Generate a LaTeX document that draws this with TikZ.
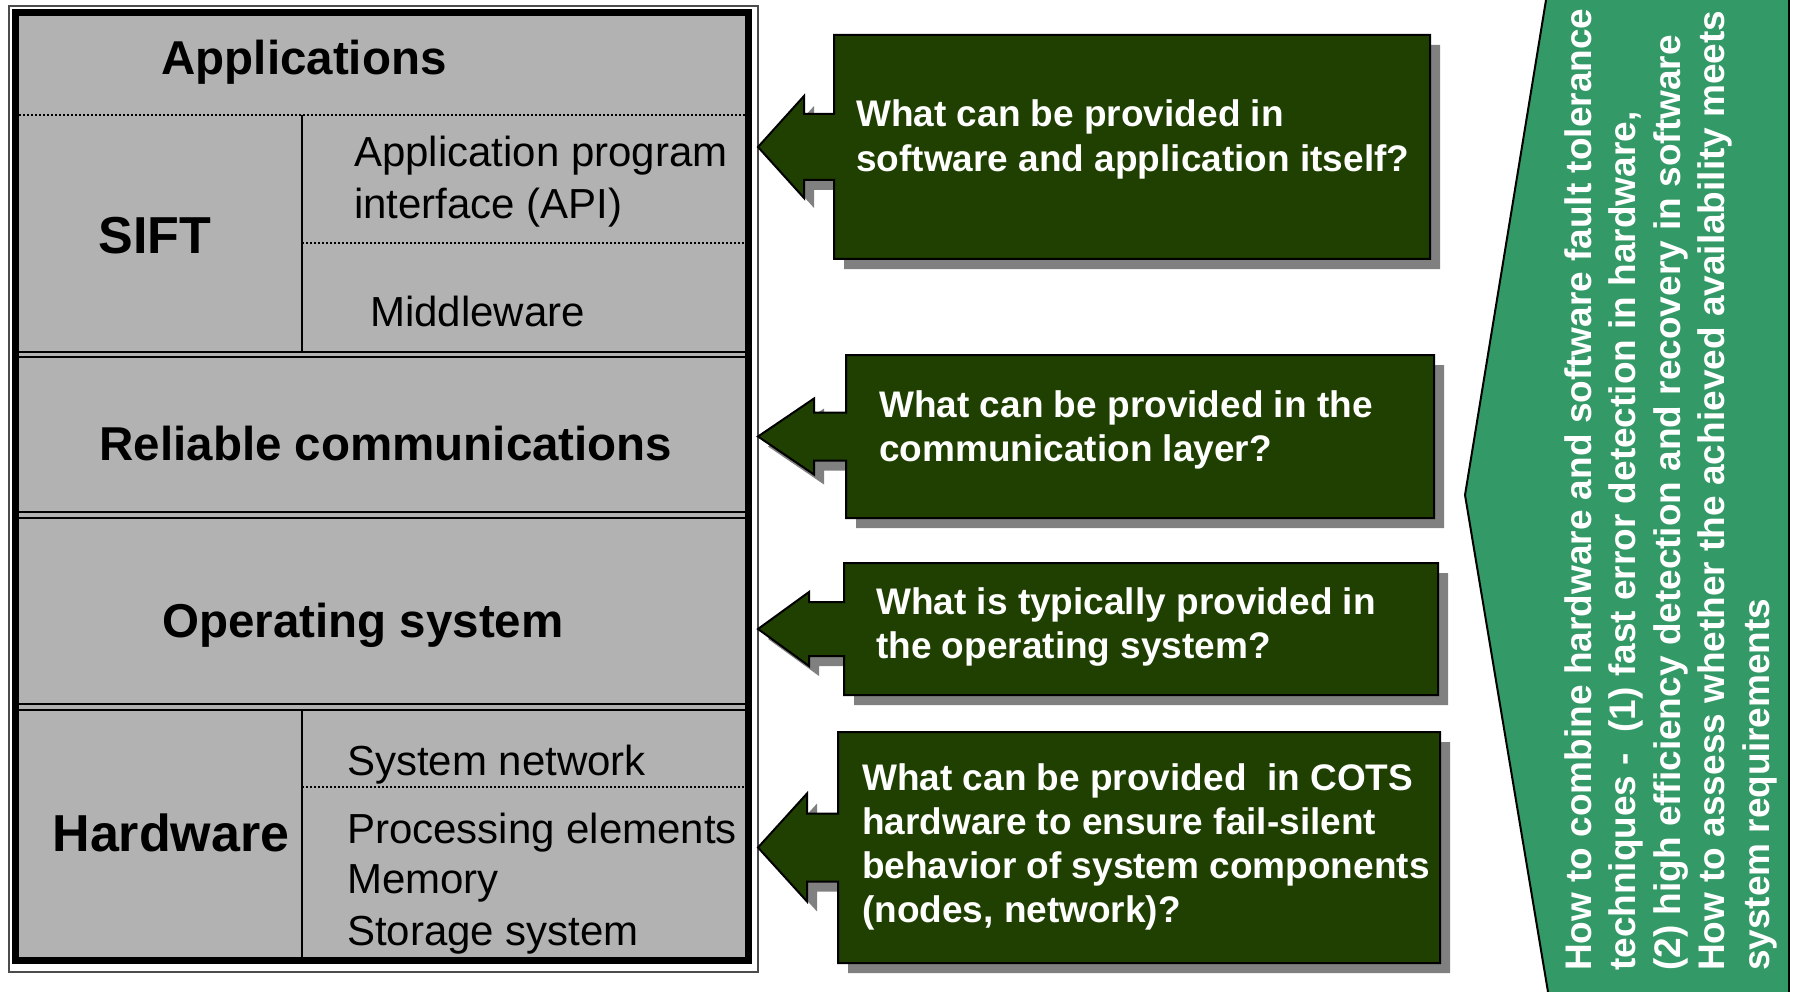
\documentclass[tikz,border=0pt]{standalone}
\usepackage{fontspec}
\setmainfont{Liberation Sans}
\usetikzlibrary{calc}

\definecolor{layergrey}{HTML}{B2B2B2}
\definecolor{shadowgrey}{HTML}{808080}
\definecolor{askgreen}{HTML}{1F4000}
\definecolor{notegreen}{HTML}{339966}

% box outline plus the arrow that points back at the stack
% #1 box node, #2 shaft length, #3 head half height, #4 shaft half height
\newcommand{\askpath}[4]{(#1.north west) -- (#1.north east) -- (#1.south east) -- (#1.south west)
  -- ($(#1.west)+(0,#4)$) -- ($(#1.west)+(-#2,#4)$) -- ($(#1.west)+(-#2,#3)$)
  -- (stack.east |- #1.west)
  -- ($(#1.west)+(-#2,-#3)$) -- ($(#1.west)+(-#2,-#4)$) -- ($(#1.west)+(0,-#4)$) -- cycle}

\begin{document}
\begin{tikzpicture}[x=1pt, y=-1pt,
    layertitle/.style={inner sep=0, font=\fontsize{47.5}{57}\selectfont\bfseries, anchor=base},
    bigtitle/.style={inner sep=0, font=\fontsize{52}{62}\selectfont\bfseries, anchor=base},
    item/.style={inner sep=0, font=\fontsize{42}{51}\selectfont, anchor=base west},
    ask/.style={inner sep=0, text=white, font=\fontsize{37}{45}\selectfont\bfseries, anchor=base west},
    note/.style={inner sep=0, text=white, font=\fontsize{37}{45}\selectfont\bfseries, anchor=base west, rotate=90},
    askbox/.style={rectangle, inner sep=0, outer sep=0},
    divider/.style={line width=2pt},
    dotline/.style={line width=2pt, dash pattern=on 2pt off 2pt},
    askshadow/.style={fill=shadowgrey, transform canvas={shift={(10pt,-10pt)}}},
    callout/.style={fill=askgreen, draw=black, line width=2pt, line join=miter}
]
\useasboundingbox (0,0) rectangle (1795,992);

% layer stack
\node[draw=black!70, line width=1.5pt, inner sep=0, outer sep=0,
      minimum width=749pt, minimum height=966pt] (stack) at (383.5,489) {};
\fill[layergrey] (19,16) rectangle (745,958);
\draw[line width=7pt] (15,12.5) rectangle (748,960);

\draw[dotline] (19,115) -- (745,115);
\draw[divider] (302,115) -- (302,352);
\draw[dotline] (302,243) -- (745,243);
\draw[divider] (19,352) -- (745,352);
\draw[divider] (19,357) -- (745,357);
\draw[divider] (19,512) -- (745,512);
\draw[divider] (19,518) -- (745,518);
\draw[divider] (19,704) -- (745,704);
\draw[divider] (19,710) -- (745,710);
\draw[divider] (302,710) -- (302,958);
\draw[dotline] (302,787) -- (745,787);

\node[layertitle] (apps) at (304,75) {Applications};
\node[bigtitle] (sift) at (155,254) {SIFT};
\node[item] (api1) at (354,167) {Application program};
\node[item] (api2) at (354,219) {interface (API)};
\node[item] (mw) at (370,326) {Middleware};
\node[layertitle] (comm) at (386,460) {Reliable communications};
\node[layertitle] (os) at (363,637) {Operating system};
\node[bigtitle] (hw) at (171,851) {Hardware};
\node[item] (net) at (347,775) {System network};
\node[item] (pe) at (347,843) {Processing elements};
\node[item] (mem) at (347,893) {Memory};
\node[item] (sto) at (347,945) {Storage system};

% question callouts
\node[askbox, minimum width=596pt, minimum height=224pt] (q1) at (1132,147) {};
\node[askbox, minimum width=588pt, minimum height=163pt] (q2) at (1140,436.5) {};
\node[askbox, minimum width=594pt, minimum height=132pt] (q3) at (1141,629) {};
\node[askbox, minimum width=602pt, minimum height=231pt] (q4) at (1139,847.5) {};

\fill[askshadow] \askpath{q1}{30}{51}{33};
\fill[askshadow] \askpath{q2}{32}{38}{24};
\fill[askshadow] \askpath{q3}{35}{37}{27};
\fill[askshadow] \askpath{q4}{31}{54}{34};

\path[callout] \askpath{q1}{30}{51}{33};
\path[callout] \askpath{q2}{32}{38}{24};
\path[callout] \askpath{q3}{35}{37}{27};
\path[callout] \askpath{q4}{31}{54}{34};

\node[ask] (q1a) at (856,127) {What can be provided in};
\node[ask] (q1b) at (856,172) {software and application itself?};
\node[ask] (q2a) at (879,417) {What can be provided in the};
\node[ask] (q2b) at (879,461) {communication layer?};
\node[ask] (q3a) at (876,614) {What is typically provided in};
\node[ask] (q3b) at (876,658) {the operating system?};
\node[ask] (q4a) at (862,790) {What can be provided\ \ in COTS};
\node[ask] (q4b) at (862,834) {hardware to ensure fail-silent};
\node[ask] (q4c) at (862,878) {behavior of system components};
\node[ask] (q4d) at (862,922) {(nodes, network)?};

% side note
\fill[notegreen] (1546,0) -- (1465,495) -- (1548,992) -- (1789,992) -- (1789,0) -- cycle;
\draw[line width=2pt] (1546,0) -- (1465,495) -- (1548,992);
\draw[line width=2pt] (1789,0) -- (1789,992);

\node[note] (n1) at (1591,971) {How to combine hardware and software fault tolerance};
\node[note] (n2) at (1635.5,971) {techniques -\ \ (1) fast error detection in hardware,};
\node[note] (n3) at (1680,971) {(2) high efficiency detection and recovery in software};
\node[note] (n4) at (1724.5,971) {How to assess whether the achieved availability meets};
\node[note] (n5) at (1769,971) {system requirements};

\end{tikzpicture}
\end{document}
